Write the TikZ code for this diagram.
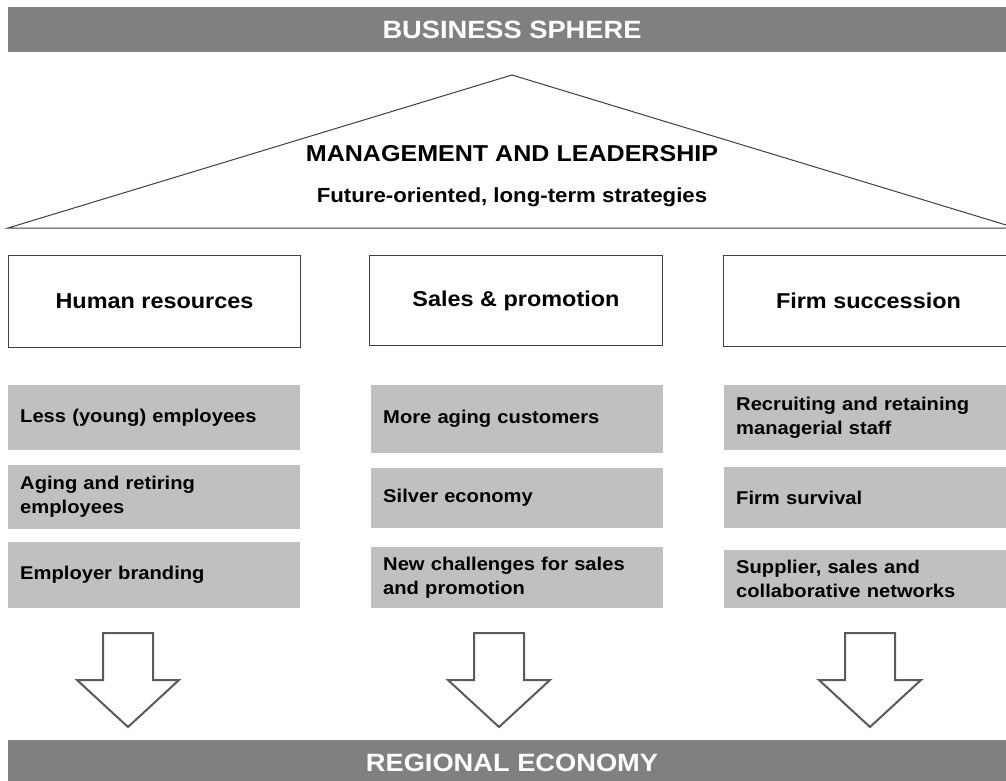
\documentclass[tikz,border=0pt]{standalone}
\usepackage{fontspec}
\setmainfont{Liberation Sans}[FakeStretch=1.09]
\usepackage{tikz}
\definecolor{barg}{RGB}{128, 128, 128}
\definecolor{light}{RGB}{192, 192, 192}
\definecolor{edge}{RGB}{64, 64, 64}
\definecolor{arr}{RGB}{90, 90, 90}

\begin{document}
\begin{tikzpicture}[
   x=1pt, y=-1pt,
   bar/.style={rectangle, fill=barg, text=white, inner sep=0,
               minimum width=1008, minimum height=45,
               font=\fontsize{25}{30}\selectfont\bfseries},
   areabox/.style={rectangle, draw=edge, fill=white, line width=1, inner sep=0,
                   anchor=north west, font=\fontsize{21.5}{26}\selectfont\bfseries},
   issue/.style={rectangle, fill=light, anchor=north west, inner xsep=12,
                 inner ysep=0, text width=268, align=left,
                 font=\fontsize{18.5}{24}\selectfont\bfseries},
   roofline/.style={draw=edge, fill=white, line width=1},
   blockarrow/.style={draw=arr, fill=white, line width=2, line join=miter}
  ]

  % Page
  \clip (0, 0) rectangle (1006, 780);
  \fill[white] (0, 0) rectangle (1006, 780);

  % Bars
  \node (bizbar) at (512, 29.5) [bar] {BUSINESS SPHERE};
  \node (ecobar) at (512, 762.5) [bar] {REGIONAL ECONOMY};

  % Roof
  \draw[roofline] (8, 228) -- (512, 75) -- (1016, 228) -- cycle;
  \node (mgmt) at (512, 161) [anchor=base, font=\fontsize{23}{28}\selectfont\bfseries]
    {MANAGEMENT AND LEADERSHIP};
  \node (strat) at (512, 202) [anchor=base, font=\fontsize{20.4}{25}\selectfont\bfseries]
    {Future-oriented, long-term strategies};

  % Areas
  \foreach \n/\x/\w/\h/\t in {hr/8/292/92/{Human resources},
                              sales/369/293/90/{Sales \& promotion},
                              succ/723/290/91/{Firm succession}} {
    \node (\n) at (\x, 255) [areabox, minimum width=\w, minimum height=\h] {\t};
  }

  % Issues
  \foreach \n/\x/\y/\h/\t in {
      hrA/8/385/65/{Less (young) employees},
      hrB/8/465/64/{Aging and retiring\\employees},
      hrC/8/542/66/{Employer branding},
      spA/371/385/68/{More aging customers},
      spB/371/468/60/{Silver economy},
      spC/371/547/61/{New challenges for sales\\and promotion},
      fsA/724/385/65/{Recruiting and retaining\\managerial staff},
      fsB/724/467/61/{Firm survival},
      fsC/724/550/58/{Supplier, sales and\\collaborative networks}} {
    \node (\n) at (\x, \y) [issue, minimum height=\h] {\t};
  }

  % Arrows
  \foreach \c in {128, 499, 870} {
    \draw[blockarrow] (\c - 25, 633) -- (\c + 25, 633) -- (\c + 25, 680)
      -- (\c + 51, 680) -- (\c, 727) -- (\c - 51, 680) -- (\c - 25, 680) -- cycle;
  }

\end{tikzpicture}
\end{document}
